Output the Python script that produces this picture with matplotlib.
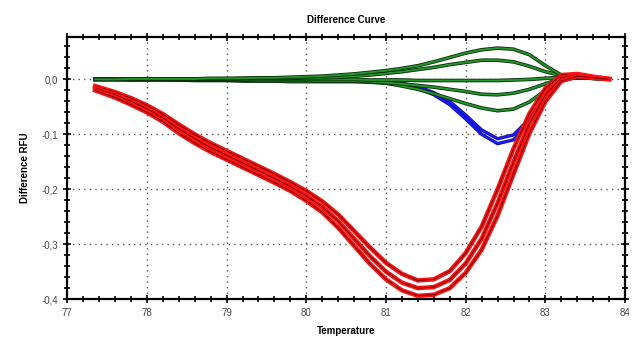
import matplotlib
matplotlib.use('Agg')
import matplotlib.pyplot as plt
from matplotlib.ticker import MultipleLocator, FuncFormatter

# Temperature grid shared by every trace
temps = [77.35, 77.6, 77.8, 78.0, 78.2, 78.4, 78.6, 78.8, 79.0, 79.2, 79.4,
         79.6, 79.8, 80.0, 80.2, 80.4, 80.6, 80.8, 81.0, 81.2, 81.4, 81.6,
         81.8, 82.0, 82.2, 82.4, 82.6, 82.8, 83.0, 83.2, 83.4, 83.6, 83.8]

# Red traces (large negative dip)
red_hi = [-0.012, -0.023, -0.034, -0.047, -0.063, -0.082, -0.100, -0.116,
          -0.130, -0.144, -0.158, -0.172, -0.187, -0.203, -0.222, -0.246,
          -0.276, -0.306, -0.334, -0.354, -0.366, -0.364, -0.349, -0.316,
          -0.268, -0.200, -0.126, -0.062, -0.016, 0.008, 0.010, 0.005, 0.001]
red_mid = [-0.016, -0.028, -0.040, -0.053, -0.070, -0.090, -0.108, -0.124,
           -0.138, -0.152, -0.166, -0.180, -0.195, -0.212, -0.232, -0.258,
           -0.290, -0.322, -0.350, -0.370, -0.380, -0.378, -0.365, -0.335,
           -0.290, -0.225, -0.150, -0.080, -0.028, 0.003, 0.008, 0.004, 0.001]
red_lo = [-0.020, -0.033, -0.046, -0.060, -0.077, -0.098, -0.116, -0.132,
          -0.146, -0.160, -0.174, -0.188, -0.203, -0.221, -0.242, -0.270,
          -0.303, -0.336, -0.364, -0.384, -0.394, -0.392, -0.380, -0.352,
          -0.310, -0.248, -0.172, -0.098, -0.040, -0.003, 0.006, 0.003, 0.000]

# Blue traces (small dip near 82.4)
blue_a = [0.000, 0.000, 0.000, 0.000, 0.000, 0.000, 0.000, 0.000, 0.000,
          0.000, 0.000, 0.000, -0.001, -0.001, -0.001, -0.002, -0.002, -0.003,
          -0.004, -0.007, -0.013, -0.024, -0.040, -0.065, -0.092, -0.108,
          -0.101, -0.072, -0.033, -0.001, 0.005, 0.003, 0.001]
blue_b = [0.000, 0.000, 0.000, 0.000, 0.000, 0.000, 0.000, 0.000, 0.000,
          0.000, 0.000, 0.000, -0.001, -0.001, -0.002, -0.002, -0.003, -0.004,
          -0.005, -0.009, -0.016, -0.028, -0.046, -0.072, -0.100, -0.117,
          -0.110, -0.079, -0.038, -0.003, 0.004, 0.003, 0.001]

# Green traces (around zero)
green_1 = [0.000, 0.000, 0.001, 0.001, 0.001, 0.001, 0.001, 0.002, 0.002,
           0.002, 0.003, 0.003, 0.004, 0.005, 0.006, 0.008, 0.010, 0.013,
           0.016, 0.020, 0.025, 0.032, 0.040, 0.048, 0.054, 0.057, 0.055,
           0.045, 0.025, 0.008, 0.004, 0.002, 0.001]
green_2 = [0.000, 0.000, 0.000, 0.001, 0.001, 0.001, 0.001, 0.001, 0.001,
           0.002, 0.002, 0.002, 0.002, 0.003, 0.003, 0.004, 0.006, 0.008,
           0.011, 0.014, 0.018, 0.022, 0.027, 0.031, 0.035, 0.035, 0.032,
           0.024, 0.014, 0.007, 0.004, 0.002, 0.001]
green_3 = [0.000, 0.000, 0.000, 0.000, 0.000, 0.000, 0.000, 0.000, 0.000,
           0.000, 0.000, 0.000, 0.000, 0.000, 0.000, 0.000, 0.000, -0.001,
           -0.001, -0.001, -0.002, -0.002, -0.002, -0.002, -0.002, -0.002,
           -0.001, 0.000, 0.002, 0.004, 0.003, 0.002, 0.001]
green_4 = [0.000, 0.000, 0.000, 0.000, 0.000, -0.001, -0.001, -0.001, -0.001,
           -0.001, -0.002, -0.002, -0.002, -0.002, -0.003, -0.003, -0.003,
           -0.004, -0.006, -0.008, -0.011, -0.014, -0.018, -0.022, -0.027,
           -0.028, -0.025, -0.018, -0.008, 0.002, 0.003, 0.002, 0.001]
green_5 = [0.000, 0.000, -0.001, -0.001, -0.001, -0.001, -0.002, -0.002,
           -0.002, -0.003, -0.003, -0.003, -0.004, -0.004, -0.004, -0.004,
           -0.004, -0.005, -0.007, -0.012, -0.018, -0.026, -0.035, -0.044,
           -0.052, -0.057, -0.054, -0.041, -0.020, 0.000, 0.003, 0.002, 0.001]

plt.rcParams['font.family'] = ['Liberation Sans', 'DejaVu Sans']

fig = plt.figure(figsize=(6.34, 3.47), dpi=100)
ax = fig.add_axes([0.106, 0.138, 0.880, 0.755])

# blue underneath, green band over it, red on top
for b in [blue_a, blue_b]:
    ax.plot(temps, b, color='#10108a', lw=2.4, zorder=3)
    ax.plot(temps, b, color='#1a1aff', lw=1.4, zorder=3)

for g in [green_5, green_4, green_3, green_2, green_1]:
    ax.plot(temps, g, color='#0b2a0b', lw=2.6, zorder=4)
    ax.plot(temps, g, color='#22962a', lw=1.4, zorder=4)

for r in [red_hi, red_mid, red_lo]:
    ax.plot(temps, r, color='#ff1010', lw=3.2, zorder=5)
    ax.plot(temps, r, color='#6a0000', lw=0.7, zorder=5)

ax.set_xlim(77, 84)
ax.set_ylim(-0.4, 0.077)

ax.xaxis.set_major_locator(MultipleLocator(1))
ax.xaxis.set_minor_locator(MultipleLocator(0.2))
ax.yaxis.set_major_locator(MultipleLocator(0.1))
ax.yaxis.set_minor_locator(MultipleLocator(0.02))
ax.yaxis.set_major_formatter(FuncFormatter(lambda v, p: ('%.1f' % v).replace('.', ',')))

ax.tick_params(which='both', direction='inout', top=True, right=True,
               labeltop=False, labelright=False, width=1.2)
ax.tick_params(which='major', length=6, labelsize=7, labelcolor='#444444')
ax.tick_params(which='minor', length=4)

ax.grid(True, which='major', linestyle=(0, (1, 3)), color='#555555', lw=1.0)

for s in ax.spines.values():
    s.set_linewidth(1.6)

ax.set_title('Difference Curve', fontsize=7, fontweight='bold', pad=10)
ax.set_xlabel('Temperature', fontsize=7, fontweight='bold', labelpad=6)
ax.set_ylabel('Difference RFU', fontsize=7, fontweight='bold', labelpad=8)

fig.savefig('out.png', dpi=100)
